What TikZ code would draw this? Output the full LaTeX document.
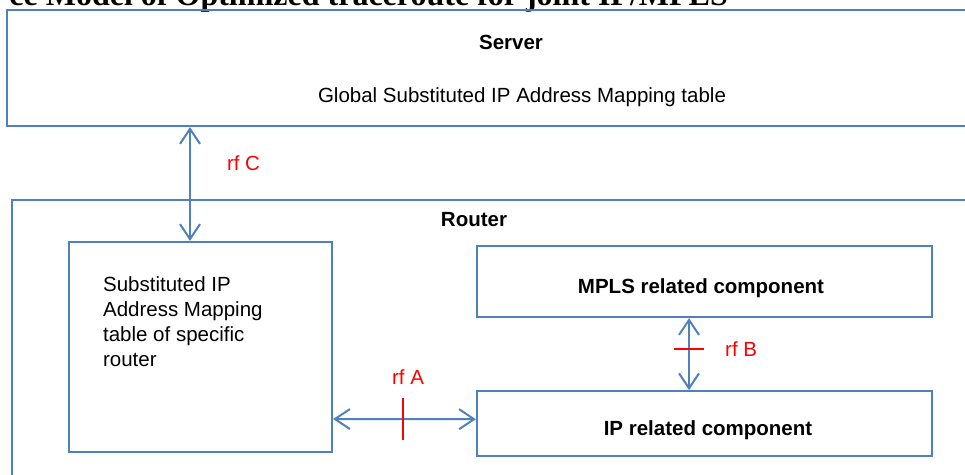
\documentclass[tikz,border=0pt]{standalone}
\usepackage{fontspec}
\setmainfont{Liberation Sans}
\newfontfamily\titlefont{Liberation Serif}
\usepackage{xcolor}
\usetikzlibrary{arrows.meta,positioning,calc}
\definecolor{boxblue}{HTML}{4F81BD}
\definecolor{rfred}{HTML}{FF0000}

\begin{document}
\begin{tikzpicture}[
    x=1pt, y=-1pt,
    box/.style={rectangle, draw=boxblue, line width=2.2pt, inner sep=0pt},
    txt/.style={font=\fontsize{20.5}{25}\selectfont, inner sep=0pt},
    head/.style={font=\fontsize{20.5}{25}\selectfont\bfseries, inner sep=0pt},
    rf/.style={font=\fontsize{20.5}{25}\selectfont, text=rfred, inner sep=0pt},
    link/.style={{Straight Barb[length=15pt,width=20pt]}-{Straight Barb[length=15pt,width=20pt]},
                 draw=boxblue, line width=2pt},
    rftick/.style={draw=rfred, line width=2pt},
]
\useasboundingbox (0,0) rectangle (965,474);
\clip (0,0) rectangle (965,474);

% Title (cut off at the top)
\node[anchor=base east, inner sep=0pt, font=\titlefont\bfseries\fontsize{32}{36}\selectfont]
    (title) at (728,5) {ce Model of Optimized traceroute for joint IP/MPLS};

% Server
\node[box, minimum width=968pt, minimum height=116pt] (server) at (491,68) {};
\node[head] (servername) at (511,42) {Server};
\node[txt, anchor=base] (globaltab) at (522,102) {Global Substituted IP Address Mapping table};

% Router and its parts
\node[box, minimum width=968pt, minimum height=290pt] (router) at (496,345) {};
\node[head] (routername) at (474,220) {Router};
\node[box, minimum width=263pt, minimum height=210pt] (table) at (200.5,347) {};
\node[txt, align=left, anchor=north west] (tabtext) at ([shift={(35,36)}]table.north west)
    {Substituted IP\\Address Mapping\\table of specific\\router};
\node[box, minimum width=455pt, minimum height=71pt] (mpls) at (704.5,281.5) {};
\node[head, anchor=base] (mplstext) at (701,293) {MPLS related component};
\node[box, minimum width=455pt, minimum height=65pt, below=72pt of mpls] (ip) {};
\node[head, anchor=base] (iptext) at (708,435) {IP related component};

% rf C: server <-> table
\path ([xshift=-10.5pt]table.north) coordinate (rfcbot);
\draw[link] (rfcbot |- server.south) -- node[pos=0.32, right=36pt, rf] (rfclabel) {rf C} (rfcbot);

% rf A: table <-> IP component
\draw[link] ([yshift=-72pt]table.east) -- coordinate[pos=0.49] (rfamid) ([yshift=4.5pt]ip.west);
\draw[rftick] ([yshift=21pt]rfamid) coordinate (rfatop) -- ([yshift=-21pt]rfamid);
\node[rf, above=13pt of rfatop, xshift=5pt] (rfalabel) {rf A};

% rf B: MPLS component <-> IP component
\draw[link] ([xshift=-15.5pt]mpls.south) -- coordinate[pos=0.43] (rfbmid) ([xshift=-15.5pt]ip.north);
\draw[rftick] ([xshift=-15pt]rfbmid) -- ([xshift=15pt]rfbmid) coordinate (rfbright);
\node[rf, right=21pt of rfbright] (rfblabel) {rf B};

\end{tikzpicture}
\end{document}
